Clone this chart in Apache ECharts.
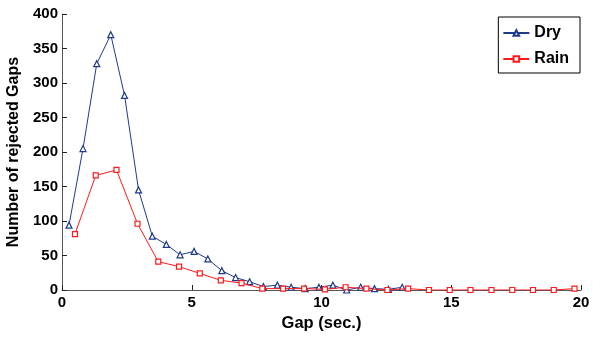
<!DOCTYPE html>
<html>
<head>
<meta charset="utf-8">
<script src="https://cdn.jsdelivr.net/npm/echarts@6/dist/echarts.min.js"></script>
<style>
  html, body { margin: 0; padding: 0; background: #fff; }
  #chart { width: 605px; height: 339px; }
</style>
</head>
<body>
<div id="chart"></div>
<script>
// values
const dryX = [0.27, 0.81, 1.34, 1.88, 2.41, 2.95, 3.48, 4.02, 4.55, 5.09, 5.62, 6.16, 6.69,
              7.23, 7.76, 8.30, 8.83, 9.37, 9.90, 10.44, 10.97, 11.51, 12.04, 12.58, 13.11];
const dryY = [94, 205, 328, 370, 282, 145, 78, 66, 51, 56, 45, 28, 18,
              12, 5, 7, 4, 2, 4, 7, 0, 4, 2, 1, 4];
const rainX = [0.50, 1.30, 2.10, 2.91, 3.71, 4.51, 5.31, 6.12, 6.92, 7.72, 8.52, 9.33, 10.13,
               10.93, 11.73, 12.54, 13.34, 14.14, 14.94, 15.74, 16.55, 17.35, 18.15, 18.95, 19.75];
const rainY = [81, 166, 174, 96, 41, 34, 24, 14, 10, 2, 2, 2, 1,
               4, 2, 0, 2, 0, 0, 0, 0, 0, 0, 0, 2];
const xTicks = [0, 5, 10, 15, 20];
const yTicks = [0, 50, 100, 150, 200, 250, 300, 350, 400];

const navy = '#1f3a8a';
const red = '#ff1a1a';
const fontFamily = '"Liberation Sans", Arial, sans-serif';

const zip = (xs, ys) => xs.map((x, i) => [x, ys[i]]);

const chart = echarts.init(document.getElementById('chart'), null, { renderer: 'canvas' });

const axisCommon = {
  axisLine: { show: true, lineStyle: { color: '#555', width: 1 } },
  axisTick: { show: true, inside: true, length: 5, lineStyle: { color: '#222' } },
  splitLine: { show: false },
  nameLocation: 'middle',
  axisLabel: { color: '#000', fontWeight: 'bold', fontSize: 15, fontFamily }
};

chart.setOption({
  backgroundColor: '#fff',
  animation: false,
  textStyle: { fontFamily },
  grid: { left: 62, right: 24, top: 14, bottom: 49, containLabel: false, outerBoundsMode: 'none' },
  legend: {
    orient: 'vertical',
    right: 25,
    top: 17,
    padding: [8, 11, 6, 4],
    itemGap: 10,
    itemWidth: 26,
    itemHeight: 7,
    borderColor: '#000',
    borderWidth: 1,
    backgroundColor: '#fff',
    textStyle: { color: '#000', fontWeight: 'bold', fontSize: 16, fontFamily },
    data: ['Dry', 'Rain']
  },
  xAxis: Object.assign({}, axisCommon, {
    type: 'value',
    min: xTicks[0],
    max: xTicks[xTicks.length - 1],
    interval: xTicks[1] - xTicks[0],
    name: 'Gap (sec.)',
    nameGap: 16,
    nameTextStyle: { color: '#000', fontWeight: 'bold', fontSize: 16.5, fontFamily },
    axisLabel: Object.assign({}, axisCommon.axisLabel, { margin: 5 })
  }),
  yAxis: Object.assign({}, axisCommon, {
    type: 'value',
    min: yTicks[0],
    max: yTicks[yTicks.length - 1],
    interval: yTicks[1] - yTicks[0],
    name: 'Number of rejected Gaps',
    nameGap: 35,
    nameTextStyle: { color: '#000', fontWeight: 'bold', fontSize: 16, fontFamily },
    axisLabel: Object.assign({}, axisCommon.axisLabel, { margin: 4 })
  }),
  series: [
    {
      name: 'Dry',
      type: 'line',
      data: zip(dryX, dryY),
      symbol: 'triangle',
      symbolSize: 6,
      lineStyle: { color: navy, width: 1 },
      itemStyle: { color: '#fff', borderColor: navy, borderWidth: 1.2 },
      z: 3
    },
    {
      name: 'Rain',
      type: 'line',
      data: zip(rainX, rainY),
      symbol: 'rect',
      symbolSize: 5,
      lineStyle: { color: red, width: 1 },
      itemStyle: { color: '#fff', borderColor: red, borderWidth: 1.2 },
      z: 4
    }
  ]
});
</script>
</body>
</html>
